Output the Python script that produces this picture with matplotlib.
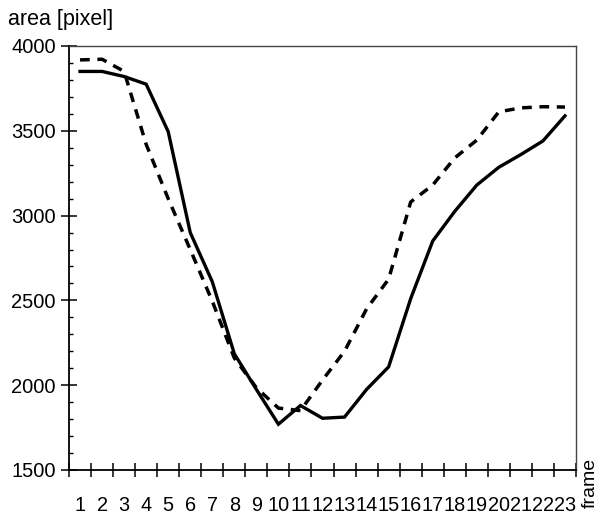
import numpy as np
import matplotlib
matplotlib.use("Agg")
import matplotlib.pyplot as plt
from matplotlib.ticker import MultipleLocator, FixedLocator

plt.rcParams['font.family'] = ['Liberation Sans', 'DejaVu Sans']

# 数据：每帧面积（像素）
frames = list(range(1, 24))
area_solid = [3850, 3850, 3820, 3775, 3495, 2900, 2610, 2185, 1975, 1770, 1880,
              1805, 1812, 1975, 2108, 2510, 2850, 3025, 3180, 3285, 3360, 3440, 3588]
area_dashed = [3918, 3922, 3850, 3420, 3100, 2800, 2495, 2160, 1985, 1865, 1850,
               2030, 2200, 2450, 2625, 3080, 3180, 3340, 3445, 3612, 3635, 3642, 3640]
tick_labels = [str(f) for f in frames]

fig = plt.figure(figsize=(5.97, 5.18), dpi=100)
ax = fig.add_axes([0.1156, 0.0927, 0.8492, 0.8185])

ax.plot(frames, area_solid, color='black', lw=2.4, solid_joinstyle='miter')
ax.plot(frames, area_dashed, color='black', lw=2.5, linestyle=(0, (2.8, 2.2)))

ax.set_xlim(0.5, 23.5)
ax.set_ylim(1500, 4000)

# x轴：刻度线在类别边界，标签在类别中心
ax.xaxis.set_major_locator(FixedLocator(np.arange(0.5, 24, 1.0)))
ax.set_xticklabels([], minor=False)
ax.set_xticks(frames, tick_labels, minor=True)
ax.tick_params(axis='x', which='major', direction='inout', length=10, width=1.1)
ax.tick_params(axis='x', which='minor', length=0, pad=19, labelsize=14.3)

# y轴
ax.yaxis.set_major_locator(MultipleLocator(500))
ax.yaxis.set_minor_locator(MultipleLocator(100))
ax.tick_params(axis='y', which='major', direction='inout', length=11, width=1.1,
               pad=4, labelsize=14.5)
ax.tick_params(axis='y', which='minor', direction='in', length=3.2, width=1.0)

for side in ['left', 'bottom']:
    ax.spines[side].set_linewidth(1.3)
for side in ['top', 'right']:
    ax.spines[side].set_linewidth(1.0)
    ax.spines[side].set_color('#444444')

fig.text(0.013, 0.962, 'area [pixel]', fontsize=15.5, ha='left', va='center')
fig.text(0.988, 1 - 458 / 518, 'frame', fontsize=14, rotation=90, ha='center', va='top')

fig.savefig('out.png', dpi=100)
